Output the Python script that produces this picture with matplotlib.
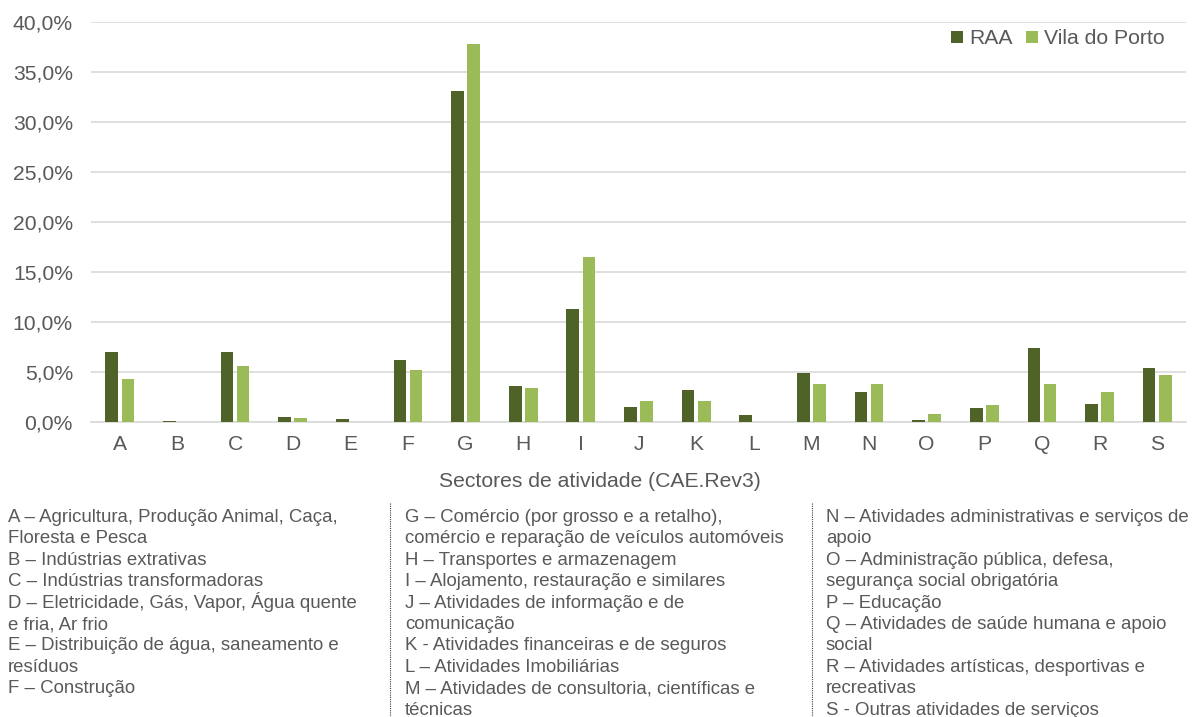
import matplotlib
matplotlib.use("Agg")
import matplotlib.pyplot as plt
import numpy as np
from matplotlib.ticker import FuncFormatter

categories = ["A", "B", "C", "D", "E", "F", "G", "H", "I", "J",
              "K", "L", "M", "N", "O", "P", "Q", "R", "S"]
raa = [7.0, 0.1, 7.0, 0.5, 0.3, 6.2, 33.1, 3.6, 11.3, 1.5,
       3.2, 0.7, 4.9, 3.0, 0.25, 1.4, 7.4, 1.8, 5.4]
vila = [4.3, 0.0, 5.6, 0.4, 0.0, 5.2, 37.8, 3.4, 16.5, 2.1,
        2.1, 0.0, 3.8, 3.8, 0.8, 1.7, 3.8, 3.0, 4.7]
series_names = ["RAA", "Vila do Porto"]
y_ticks = [0, 5, 10, 15, 20, 25, 30, 35, 40]
x_label = "Sectores de atividade (CAE.Rev3)"

legend_col1 = [
    "A – Agricultura, Produção Animal, Caça,",
    "Floresta e Pesca",
    "B – Indústrias extrativas",
    "C – Indústrias transformadoras",
    "D – Eletricidade, Gás, Vapor, Água quente",
    "e fria, Ar frio",
    "E – Distribuição de água, saneamento e",
    "resíduos",
    "F – Construção",
]
legend_col2 = [
    "G – Comércio (por grosso e a retalho),",
    "comércio e reparação de veículos automóveis",
    "H – Transportes e armazenagem",
    "I – Alojamento, restauração e similares",
    "J – Atividades de informação e de",
    "comunicação",
    "K - Atividades financeiras e de seguros",
    "L – Atividades Imobiliárias",
    "M – Atividades de consultoria, científicas e",
    "técnicas",
]
legend_col3 = [
    "N – Atividades administrativas e serviços de",
    "apoio",
    "O – Administração pública, defesa,",
    "segurança social obrigatória",
    "P – Educação",
    "Q – Atividades de saúde humana e apoio",
    "social",
    "R – Atividades artísticas, desportivas e",
    "recreativas",
    "S - Outras atividades de serviços",
]

plt.rcParams['font.family'] = ['Liberation Sans', 'DejaVu Sans']
W, H = 1194, 717
fig = plt.figure(figsize=(W / 100, H / 100), dpi=100)

def fx(px):
    return px / W

def fy(py):
    return 1 - py / H

ax = fig.add_axes([fx(91), fy(422), fx(1186) - fx(91), fy(22) - fy(422)])

dark = "#4F6228"
light = "#9BBB59"
text_col = "#595959"

x = np.arange(len(categories))
w = 0.22
ax.bar(x - 0.14, raa, width=w, color=dark, label=series_names[0], zorder=3)
ax.bar(x + 0.14, vila, width=w, color=light, label=series_names[1], zorder=3)

ax.set_xlim(-0.5, len(categories) - 0.5)
ax.set_ylim(0, 40)
ax.set_yticks(y_ticks)
ax.yaxis.set_major_formatter(FuncFormatter(lambda v, p: f"{v:.1f}%".replace(".", ",")))
ax.set_xticks(x)
ax.set_xticklabels(categories)
ax.grid(axis="y", color="#D9D9D9", linewidth=1.2, zorder=0)
ax.set_axisbelow(True)
for s in ["top", "right", "left"]:
    ax.spines[s].set_visible(False)
ax.spines["bottom"].set_color("#D9D9D9")
ax.spines["bottom"].set_linewidth(1.2)
ax.tick_params(axis="both", length=0, labelsize=15.2, labelcolor=text_col)
ax.tick_params(axis="y", pad=13)
ax.tick_params(axis="x", pad=9)

fig.text(fx(600), fy(487), x_label, ha="center", va="baseline",
         fontsize=15.2, color=text_col)

leg = fig.legend(loc="center left", bbox_to_anchor=(fx(951), fy(39)), ncol=2,
                 frameon=False, fontsize=15.2, handlelength=0.55, handleheight=0.55,
                 handletextpad=0.3, columnspacing=0.65, borderpad=0, borderaxespad=0)
for t in leg.get_texts():
    t.set_color(text_col)

col_x = [8, 405, 826]
base0 = 522
step = 21.4
for cx, lines in zip(col_x, [legend_col1, legend_col2, legend_col3]):
    for i, line in enumerate(lines):
        fig.text(fx(cx), fy(base0 + i * step), line, ha="left", va="baseline",
                 fontsize=13.4, color=text_col)

for lx in [390, 812]:
    fig.add_artist(plt.Line2D([fx(lx), fx(lx)], [fy(503), fy(717)],
                              color="#404040", linewidth=0.8, linestyle=(0, (1, 1))))

fig.savefig("out.png", dpi=100)
